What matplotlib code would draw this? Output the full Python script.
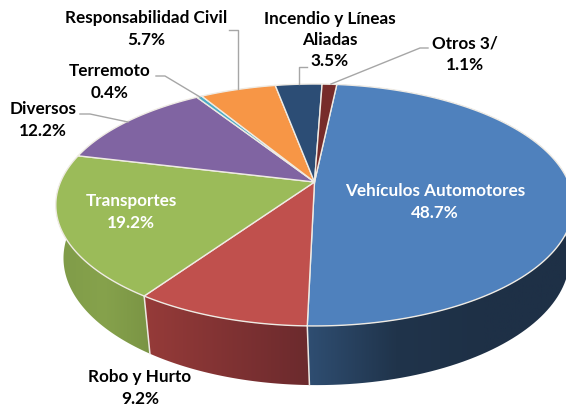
import numpy as np
import matplotlib
matplotlib.use("Agg")
import matplotlib.pyplot as plt
from matplotlib.colors import LinearSegmentedColormap
from matplotlib.patches import Polygon

plt.rcParams['font.family'] = ['Lato', 'DejaVu Sans']

# Slices clockwise from the top of the pie
names = ['Vehículos Automotores', 'Robo y Hurto', 'Transportes', 'Diversos',
         'Terremoto', 'Responsabilidad Civil', 'Incendio y Líneas\nAliadas', 'Otros 3/']
shares = [48.7, 9.2, 19.2, 12.2, 0.4, 5.7, 3.5, 1.1]
colors = ['#4F81BD', '#C0504D', '#9BBB59', '#8064A2',
          '#4BACC6', '#F79646', '#2C4D75', '#772C2A']
# left to right across the visible wall of each slice
wall_colors = [['#2F4E72', '#20344B', '#1E3046', '#1E3046'],
               ['#963B39', '#6B2A2D'],
               ['#7F9B48', '#86A24C', '#7A9444'],
               None, None, None, None, None]

label_pos = [(435, 202), (140, 388), (131, 212), (43, 120),
             (110, 82), (146, 29), (330, 40), (465, 54)]
label_colors = ['white', 'black', 'white', 'black', 'black', 'black', 'black', 'black']

leaders = [[(80, 114), (90, 114), (128, 122)],
           [(156, 76), (165, 76), (200, 97)],
           [(229, 30), (238, 30), (238, 89)],
           [(307, 67), (299, 67), (299, 84)],
           [(428, 48), (420, 48), (331, 84)]]

START = 6.0
K = 0.19
TOP = dict(cx=314.5, a=254, b=116.6, y0=182)
BOTTOM = dict(cx=316.5, a=248.4, b=122.4, y0=234)


def project(theta, rim):
    # perspective view of a circle, theta in degrees clockwise from the top
    t = np.radians(theta)
    u, v = np.sin(t), np.cos(t)
    w = 1 + K * v
    return rim['cx'] + rim['a'] * u / w, rim['y0'] - rim['b'] * v / w


fig = plt.figure(figsize=(5.66, 4.11), dpi=100)
ax = fig.add_axes([0, 0, 1, 1])

edges = START + np.cumsum([0] + shares) * 360 / sum(shares)

# side walls first, the top surface goes over them
for i in range(len(names)):
    if wall_colors[i] is None:
        continue
    theta = np.linspace(edges[i], edges[i + 1], 120)
    xt, yt = project(theta, TOP)
    xb, yb = project(theta, BOTTOM)
    pts = np.r_[np.c_[xt, yt], np.c_[xb, yb][::-1]]
    wall = Polygon(pts, closed=True, facecolor='none', edgecolor='none', zorder=1)
    ax.add_patch(wall)
    cmap = LinearSegmentedColormap.from_list('wall', wall_colors[i])
    grad = np.linspace(0, 1, 256).reshape(1, -1)
    extent = (pts[:, 0].min(), pts[:, 0].max(), 400, 80)
    img = ax.imshow(grad, cmap=cmap, extent=extent, aspect='auto', zorder=1)
    img.set_clip_path(wall)
    # divider down the wall at the slice start
    if 90 < edges[i] < 270:
        x0, y0 = project(edges[i], TOP)
        x1, y1 = project(edges[i], BOTTOM)
        ax.plot([x0, x1], [y0, y1], color='#EDE8E2', lw=1.1, zorder=2)

# top surface
for i in range(len(names)):
    theta = np.linspace(edges[i], edges[i + 1], 200)
    x, y = project(theta, TOP)
    pts = np.r_[[[TOP['cx'], TOP['y0']]], np.c_[x, y]]
    ax.add_patch(Polygon(pts, closed=True, facecolor=colors[i], edgecolor='#EFEBE4',
                         lw=1.0, joinstyle='round', zorder=3))

for line in leaders:
    xs, ys = zip(*line)
    ax.plot(xs, ys, color='#A6A6A6', lw=1.0, zorder=4)

for name, share, pos, col in zip(names, shares, label_pos, label_colors):
    ax.text(pos[0], pos[1], f'{name}\n{share}%', color=col, fontsize=12.3,
            fontweight='bold', ha='center', va='center', linespacing=1.42, zorder=5)

ax.set_xlim(0, 566)
ax.set_ylim(411, 0)
ax.axis('off')

fig.savefig('out.png', dpi=100)
